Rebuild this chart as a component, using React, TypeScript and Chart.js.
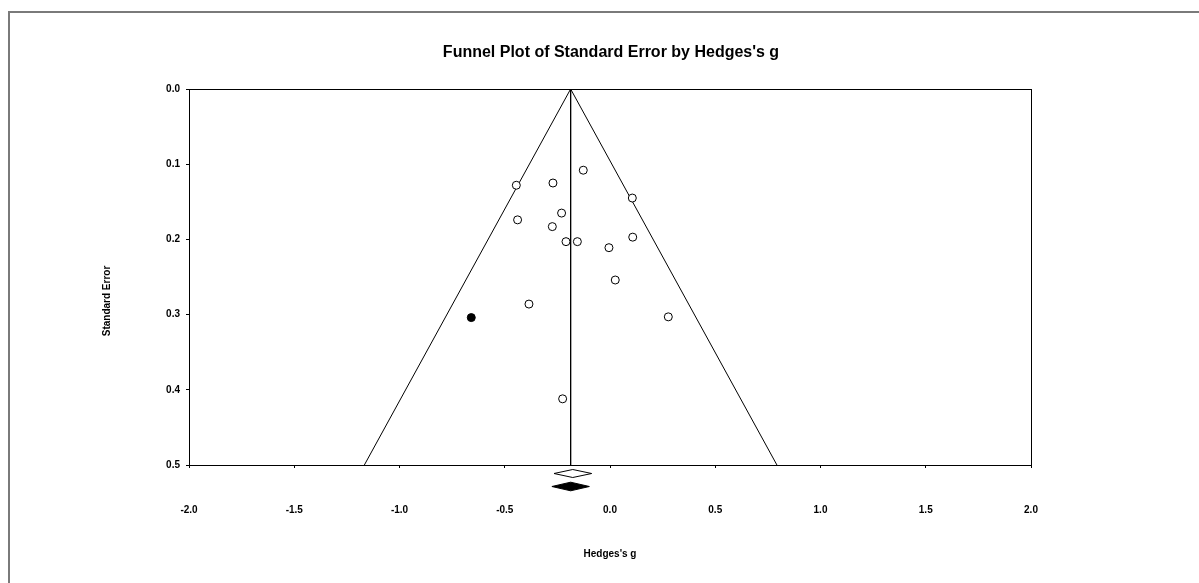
import React, { useEffect, useRef } from "react";
import { Chart, registerables } from "chart.js";

Chart.register(...registerables);

// ---- Data ----
const studyG = [-0.127, -0.445, -0.271, 0.106, -0.23, -0.439, -0.274, -0.209, -0.155, 0.108, -0.005, 0.025, -0.385, 0.277, -0.225];
const studySE = [0.108, 0.128, 0.125, 0.145, 0.165, 0.174, 0.183, 0.203, 0.203, 0.197, 0.211, 0.254, 0.286, 0.303, 0.412];
const imputedG = [-0.659];
const imputedSE = [0.304];
// [lower, point, upper]
const observedSummary = [-0.266, -0.177, -0.087];
const adjustedSummary = [-0.276, -0.187, -0.098];
const funnelCenter = -0.187;
const maxSE = 0.5;
const xTickValues = [-2.0, -1.5, -1.0, -0.5, 0.0, 0.5, 1.0, 1.5, 2.0];
const yTickValues = [0.0, 0.1, 0.2, 0.3, 0.4, 0.5];

const titleText = "Funnel Plot of Standard Error by Hedges's g";
const xTitleText = "Hedges's g";
const yTitleText = "Standard Error";

const FONT = "'Liberation Sans', Arial, Helvetica, sans-serif";

const framePlugin = {
  id: "frame",
  beforeDraw(chart: any) {
    const ctx = chart.ctx;
    ctx.save();
    ctx.fillStyle = "#ffffff";
    ctx.fillRect(0, 0, chart.width, chart.height);
    ctx.strokeStyle = "#7a7a7a";
    ctx.lineWidth = 2;
    ctx.beginPath();
    ctx.moveTo(9, chart.height + 5);
    ctx.lineTo(9, 12);
    ctx.lineTo(chart.width + 5, 12);
    ctx.stroke();
    ctx.restore();
  },
};

const boxPlugin = {
  id: "box",
  afterDraw(chart: any) {
    const { ctx, chartArea } = chart;
    ctx.save();
    ctx.strokeStyle = "#000";
    ctx.lineWidth = 1;
    ctx.strokeRect(
      Math.round(chartArea.left) + 0.5,
      Math.round(chartArea.top) + 0.5,
      Math.round(chartArea.right - chartArea.left),
      Math.round(chartArea.bottom - chartArea.top)
    );
    ctx.restore();
  },
};

const diamondPlugin = {
  id: "diamonds",
  afterDatasetsDraw(chart: any) {
    const { ctx, chartArea } = chart;
    const xs = chart.scales.x;
    const draw = (s: number[], cy: number, hh: number, filled: boolean) => {
      const l = xs.getPixelForValue(s[0]);
      const m = xs.getPixelForValue(s[1]);
      const r = xs.getPixelForValue(s[2]);
      ctx.beginPath();
      ctx.moveTo(l, cy);
      ctx.lineTo(m, cy - hh);
      ctx.lineTo(r, cy);
      ctx.lineTo(m, cy + hh);
      ctx.closePath();
      ctx.fillStyle = filled ? "#000" : "#fff";
      ctx.fill();
      ctx.strokeStyle = "#000";
      ctx.lineWidth = 1;
      ctx.stroke();
    };
    ctx.save();
    draw(observedSummary, chartArea.bottom + 8.5, 4, false);
    draw(adjustedSummary, chartArea.bottom + 21.5, 4.3, true);
    ctx.restore();
  },
};

const textPlugin = {
  id: "texts",
  afterDraw(chart: any) {
    const { ctx, chartArea } = chart;
    const cx = (chartArea.left + chartArea.right) / 2;
    ctx.save();
    ctx.fillStyle = "#000";
    ctx.textAlign = "center";
    ctx.textBaseline = "alphabetic";
    ctx.font = `bold 16px ${FONT}`;
    ctx.fillText(titleText, cx + 1, 57);
    ctx.font = `bold 10px ${FONT}`;
    ctx.fillText(xTitleText, cx, 557);
    ctx.translate(110, 301);
    ctx.rotate(-Math.PI / 2);
    ctx.fillText(yTitleText, 0, 0);
    ctx.restore();
  },
};

export default function App() {
  const ref = useRef<HTMLCanvasElement | null>(null);

  useEffect(() => {
    if (!ref.current) return;
    const studies = studyG.map((g, i) => ({ x: g, y: studySE[i] }));
    const imputed = imputedG.map((g, i) => ({ x: g, y: imputedSE[i] }));
    const halfWidth = 1.96 * maxSE;
    const chart = new Chart(ref.current, {
      type: "scatter",
      data: {
        datasets: [
          {
            data: studies,
            pointRadius: 4,
            pointBackgroundColor: "#fff",
            pointBorderColor: "#000",
            pointBorderWidth: 1,
            showLine: false,
          } as any,
          {
            data: imputed,
            pointRadius: 4,
            pointBackgroundColor: "#000",
            pointBorderColor: "#000",
            pointBorderWidth: 1,
            showLine: false,
          } as any,
          {
            data: [
              { x: funnelCenter, y: 0 },
              { x: funnelCenter, y: maxSE },
            ],
            showLine: true,
            pointRadius: 0,
            borderColor: "#000",
            borderWidth: 1,
          } as any,
          {
            data: [
              { x: funnelCenter - halfWidth, y: maxSE },
              { x: funnelCenter, y: 0 },
              { x: funnelCenter + halfWidth, y: maxSE },
            ],
            showLine: true,
            pointRadius: 0,
            borderColor: "#000",
            borderWidth: 1,
          } as any,
        ],
      },
      options: {
        responsive: false,
        animation: false,
        devicePixelRatio: 1,
        layout: { padding: { left: 149, right: 168, top: 89, bottom: 58 } },
        plugins: {
          legend: { display: false },
          tooltip: { enabled: false },
          title: { display: false },
        },
        scales: {
          x: {
            type: "linear",
            min: -2,
            max: 2,
            afterBuildTicks: (s: any) => {
              s.ticks = xTickValues.map((v) => ({ value: v }));
            },
            afterFit: (s: any) => {
              s.height = 60;
            },
            ticks: {
              color: "#000",
              font: { family: FONT, size: 10, weight: "bold" },
              padding: 36,
              maxRotation: 0,
              autoSkip: false,
              callback: (v: any) => Number(v).toFixed(1),
            },
            grid: {
              display: true,
              drawOnChartArea: false,
              drawTicks: true,
              tickLength: 3,
              color: "#000",
            },
            border: { display: true, color: "#000" },
          },
          y: {
            type: "linear",
            reverse: true,
            min: 0,
            max: maxSE,
            afterBuildTicks: (s: any) => {
              s.ticks = yTickValues.map((v) => ({ value: v }));
            },
            afterFit: (s: any) => {
              s.width = 40;
            },
            ticks: {
              color: "#000",
              font: { family: FONT, size: 10, weight: "bold" },
              padding: 6,
              autoSkip: false,
              callback: (v: any) => Number(v).toFixed(1),
            },
            grid: {
              display: true,
              drawOnChartArea: false,
              drawTicks: true,
              tickLength: 3,
              color: "#000",
            },
            border: { display: true, color: "#000" },
          },
        },
      } as any,
      plugins: [framePlugin, boxPlugin, diamondPlugin, textPlugin],
    });
    return () => chart.destroy();
  }, []);

  return (
    <div style={{ position: "fixed", left: 0, top: 0, width: 1199, height: 583, background: "#fff" }}>
      <canvas ref={ref} width={1199} height={583} style={{ display: "block" }} />
    </div>
  );
}
